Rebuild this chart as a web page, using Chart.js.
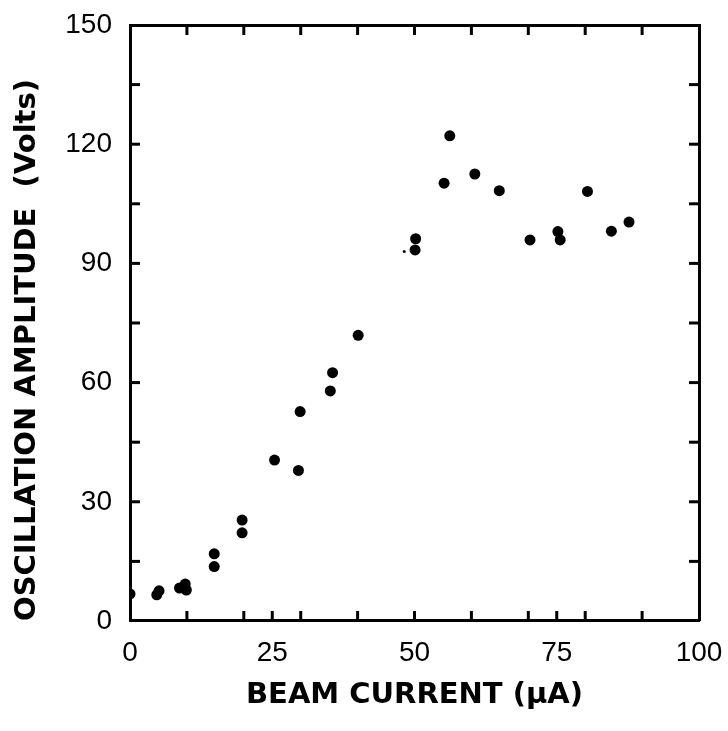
<!DOCTYPE html>
<html>
<head>
<meta charset="utf-8">
<script src="https://cdn.jsdelivr.net/npm/chart.js@4"></script>
<style>
  body { margin: 0; background: #fff; }
</style>
</head>
<body>
<canvas id="chartOsc" width="728" height="731"></canvas>
<script>
// beam current (uA) and oscillation amplitude (V)
const beamCurrent = [0, 4.7, 5.1, 8.7, 9.7, 9.9, 14.8, 14.8, 19.7, 19.7, 25.4, 29.6, 29.9, 35.2, 35.6, 40.1,
  50.1, 50.2, 55.2, 56.2, 60.6, 64.9, 70.3, 75.2, 75.6, 80.4, 84.6, 87.7];
const amplitude = [6.8, 6.6, 7.6, 8.3, 9.3, 7.8, 13.7, 16.9, 22.2, 25.4, 40.5, 37.9, 52.7, 57.9, 62.5, 71.9,
  93.4, 96.2, 110.2, 122.1, 112.5, 108.3, 95.9, 98.0, 95.9, 108.1, 98.1, 100.4];
// faint speck just left of the 50 uA pair
const speckX = [48.2];
const speckY = [93.0];

const xLabels = [0, 25, 50, 75, 100];
const xBottomMarks = [0, 10, 20, 25, 30, 40, 50, 60, 70, 75, 80, 90, 100];
const xTopMarks = [0, 10, 20, 30, 40, 50, 60, 70, 80, 90, 100];
const yLabels = [0, 30, 60, 90, 120, 150];
const yMarks = [0, 15, 30, 45, 60, 75, 90, 105, 120, 135, 150];

const ink = '#000';
const titleFont = { family: 'DejaVu Sans', size: 29, weight: 'bold' };

// tick marks pointing into the plot, on all four sides
const inwardTicks = {
  id: 'inwardTicks',
  afterDraw(chart) {
    const { ctx, chartArea: a } = chart;
    const len = 10;
    ctx.save();
    ctx.strokeStyle = ink;
    ctx.lineWidth = 3;
    ['x', 'x2', 'y', 'y2'].forEach(id => {
      const s = chart.scales[id];
      s.ticks.forEach(t => {
        if (t.value <= s.min || t.value >= s.max) return;
        const p = s.getPixelForValue(t.value);
        ctx.beginPath();
        if (id === 'x') { ctx.moveTo(p, a.bottom); ctx.lineTo(p, a.bottom - len); }
        if (id === 'x2') { ctx.moveTo(p, a.top); ctx.lineTo(p, a.top + len); }
        if (id === 'y') { ctx.moveTo(a.left, p); ctx.lineTo(a.left + len, p); }
        if (id === 'y2') { ctx.moveTo(a.right, p); ctx.lineTo(a.right - len, p); }
        ctx.stroke();
      });
    });
    ctx.restore();
  }
};

const setTicks = marks => scale => { scale.ticks = marks.map(v => ({ value: v })); };

const frame = { display: true, width: 3, color: ink };
const noGrid = { display: false, drawTicks: false };

new Chart(document.getElementById('chartOsc'), {
  type: 'scatter',
  data: {
    datasets: [{
      data: beamCurrent.map((x, i) => ({ x: x, y: amplitude[i] })),
      backgroundColor: ink,
      borderColor: ink,
      borderWidth: 0,
      pointRadius: 5.5
    }, {
      data: speckX.map((x, i) => ({ x: x, y: speckY[i] })),
      backgroundColor: ink,
      borderWidth: 0,
      pointRadius: 1.5
    }]
  },
  options: {
    responsive: false,
    animation: false,
    layout: { padding: { left: 6, right: 29, top: 25, bottom: 14.6 } },
    plugins: { legend: { display: false }, tooltip: { enabled: false } },
    scales: {
      x: {
        type: 'linear', position: 'bottom', min: 0, max: 100,
        afterBuildTicks: setTicks(xBottomMarks),
        ticks: {
          autoSkip: false, maxRotation: 0, padding: 5.6, color: ink,
          font: { family: 'Liberation Sans', size: 28, lineHeight: 1.886 },
          callback: v => xLabels.includes(v) ? String(v) : ''
        },
        grid: noGrid,
        border: frame,
        title: { display: true, text: 'BEAM CURRENT (\u03bcA)', color: ink, font: titleFont,
          padding: { top: -7.4, bottom: 4 } }
      },
      x2: {
        type: 'linear', position: 'top', min: 0, max: 100,
        afterBuildTicks: setTicks(xTopMarks),
        ticks: { display: false },
        grid: noGrid,
        border: frame
      },
      y: {
        type: 'linear', position: 'left', min: 0, max: 150,
        afterBuildTicks: setTicks(yMarks),
        ticks: {
          autoSkip: false, padding: 18, color: ink,
          font: { family: 'Liberation Sans', size: 28, lineHeight: 0.5 },
          callback: v => yLabels.includes(v) ? String(v) : ''
        },
        grid: noGrid,
        border: frame,
        title: { display: true, align: 'start', text: 'OSCILLATION AMPLITUDE  (Volts)', color: ink, font: titleFont,
          padding: { top: 4, bottom: 2.5 } }
      },
      y2: {
        type: 'linear', position: 'right', min: 0, max: 150,
        afterBuildTicks: setTicks(yMarks),
        ticks: { display: false },
        grid: noGrid,
        border: frame
      }
    }
  },
  plugins: [inwardTicks]
});
</script>
</body>
</html>
